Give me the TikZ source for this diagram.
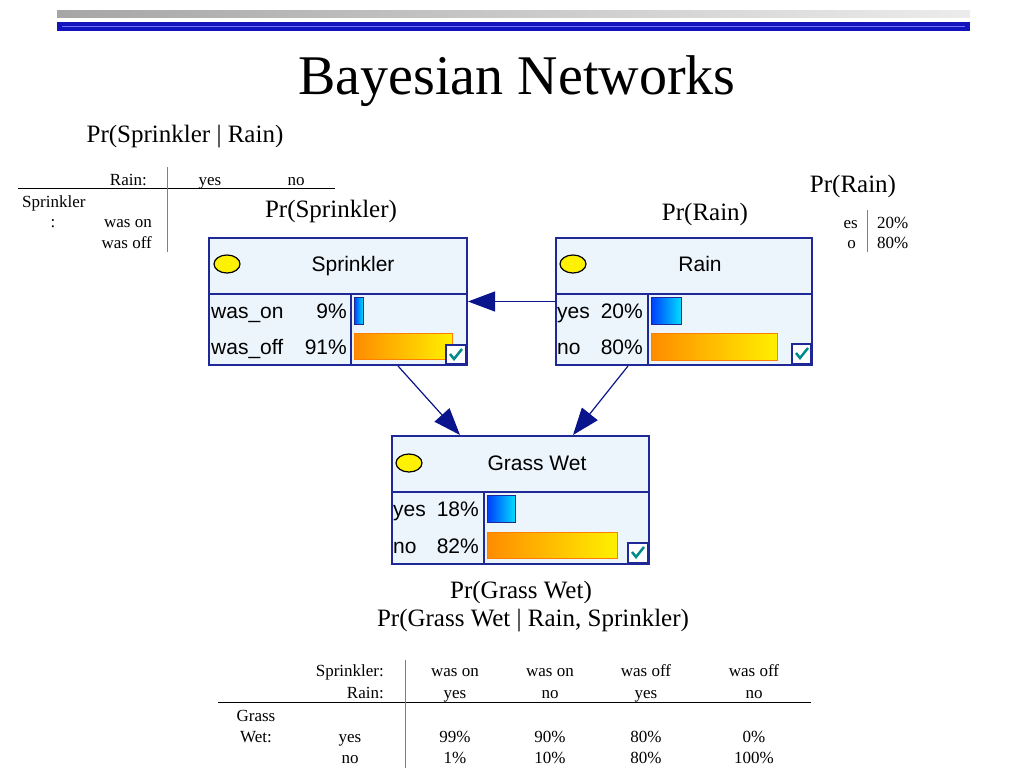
\documentclass[tikz,border=0pt]{standalone}
\usepackage{fontspec}
\setmainfont{Liberation Serif}
\newfontfamily\netfont{Liberation Sans}
\usetikzlibrary{arrows.meta}
\definecolor{netfill}{RGB}{236,245,252}
\definecolor{navyline}{RGB}{30,40,150}
\definecolor{arrowblue}{RGB}{10,20,140}
\definecolor{topblue}{RGB}{20,20,190}
\definecolor{barblueL}{RGB}{0,60,255}
\definecolor{barblueR}{RGB}{0,220,255}
\definecolor{barorL}{RGB}{255,140,0}
\definecolor{barorR}{RGB}{255,240,0}
\definecolor{tickteal}{RGB}{0,140,140}
\begin{document}
\begin{tikzpicture}[x=1pt,y=-1pt,
  netbox/.style={draw=navyline,line width=2pt,fill=netfill,inner sep=0pt,anchor=north west},
  divider/.style={draw=navyline,line width=2pt},
  oval/.style={draw=black,fill=yellow,line width=1.2pt},
  nettitle/.style={font=\netfont\fontsize{21}{24}\selectfont,inner sep=0pt,text height=15pt,text depth=0pt},
  state/.style={font=\netfont\fontsize{21}{24}\selectfont,inner sep=0pt,text height=15pt,text depth=0pt},
  bluebar/.style={left color=barblueL,right color=barblueR,draw=navyline,line width=1pt},
  orangebar/.style={left color=barorL,right color=barorR,draw=orange,line width=1pt},
  checkbox/.style={draw=navyline,fill=white,line width=1.5pt},
  tick/.style={draw=tickteal,line width=2.5pt},
  netarrow/.style={draw=arrowblue,line width=1.2pt,-{Triangle[length=27pt,width=20pt]}},
  tab/.style={font=\fontsize{17}{20}\selectfont,inner sep=0pt,text height=11.5pt,text depth=0pt},
  prlabel/.style={font=\fontsize{25}{30}\selectfont,inner sep=0pt},
  rule/.style={line width=1pt}]
\useasboundingbox (0,0) rectangle (1024,768);

% top bars and title
\shade[left color=gray!70,middle color=gray!40,right color=gray!15] (57,11) rectangle (970,18);
\fill[topblue] (57,22) rectangle (970,31);
\draw[blue!55,line width=1pt] (62,26.5) -- (965,26.5);
\node[font=\fontsize{56}{60}\selectfont,inner sep=0pt] (title) at (517,81) {Bayesian Networks};

% Pr(Sprinkler | Rain) table
\node[prlabel] (prSprRain) at (185,137) {Pr(Sprinkler | Rain)};
\node[tab,anchor=east] (rainHd) at (147,180) {Rain:};
\node[tab] (yesHd) at (210,180) {yes};
\node[tab] (noHd) at (296,180) {no};
\node[tab,anchor=west] (sprHd) at (22,202) {Sprinkler};
\node[tab] (sprColon) at (53,222) {:};
\node[tab,anchor=east] (wasOn) at (152,222) {was on};
\node[tab,anchor=east] (wasOff) at (152,243) {was off};
\draw[rule] (18,188) -- (335,188);
\draw[rule,gray] (167,167) -- (167,252);

% Pr(Rain) table
\node[prlabel] (prRainTop) at (853,186) {Pr(Rain)};
\node[tab,anchor=east] (rainYes) at (858,223) {es};
\node[tab,anchor=east] (rainNo) at (856,243) {o};
\node[tab,anchor=west] (rainP1) at (877,223) {20\%};
\node[tab,anchor=west] (rainP2) at (877,243) {80\%};
\draw[rule,gray] (867,210) -- (867,252);

\node[prlabel] (prSpr) at (331,211) {Pr(Sprinkler)};
\node[prlabel] (prRain) at (705,214) {Pr(Rain)};

% Sprinkler
\node[netbox,minimum width=258,minimum height=127] (sprinkler) at (208,237) {};
\draw[divider] (208,294) -- (466,294) (351,294) -- (351,364);
\draw[oval] (227,264) ellipse [x radius=13,y radius=9];
\node[nettitle] (sprinklerT) at (353,264) {Sprinkler};
\node[state,anchor=west] (sprS1) at (211,311) {was\_on};
\node[state,anchor=east] (sprP1) at (347,311) {9\%};
\node[state,anchor=west] (sprS2) at (211,347) {was\_off};
\node[state,anchor=east] (sprP2) at (347,347) {91\%};
\shade[bluebar] (354,297) rectangle (363,324);
\shade[orangebar] (354,333) rectangle (452,359);
\draw[checkbox] (446,345) rectangle (466,364);
\draw[tick] (450,354) -- (454,359) -- (462,349);

% Rain
\node[netbox,minimum width=256,minimum height=127] (rain) at (555,237) {};
\draw[divider] (555,294) -- (811,294) (648,294) -- (648,364);
\draw[oval] (573,264) ellipse [x radius=13,y radius=9];
\node[nettitle] (rainT) at (700,264) {Rain};
\node[state,anchor=west] (rainS1) at (557,311) {yes};
\node[state,anchor=east] (rainPc1) at (643,311) {20\%};
\node[state,anchor=west] (rainS2) at (557,347) {no};
\node[state,anchor=east] (rainPc2) at (643,347) {80\%};
\shade[bluebar] (651,297) rectangle (681,324);
\shade[orangebar] (651,333) rectangle (777,360);
\draw[checkbox] (792,344) rectangle (811,364);
\draw[tick] (796,353) -- (800,358) -- (808,348);

% Grass Wet
\node[netbox,minimum width=257,minimum height=128] (grass) at (391,435) {};
\draw[divider] (391,492) -- (648,492) (484,492) -- (484,563);
\draw[oval] (409,463) ellipse [x radius=13,y radius=9];
\node[nettitle] (grassT) at (537,463) {Grass Wet};
\node[state,anchor=west] (grassS1) at (393,509) {yes};
\node[state,anchor=east] (grassP1) at (479,509) {18\%};
\node[state,anchor=west] (grassS2) at (393,546) {no};
\node[state,anchor=east] (grassP2) at (479,546) {82\%};
\shade[bluebar] (487,495) rectangle (515,522);
\shade[orangebar] (487,532) rectangle (617,558);
\draw[checkbox] (628,543) rectangle (648,563);
\draw[tick] (632,552) -- (636,557) -- (644,547);

% links
\draw[netarrow] (rain.west) -- (sprinkler.east);
\draw[netarrow] ([xshift=190pt]sprinkler.south west) -- ([xshift=69pt]grass.north west);
\draw[netarrow] ([xshift=73pt]rain.south west) -- ([xshift=182pt]grass.north west);

% Pr(Grass Wet | Rain, Sprinkler) table
\node[prlabel] (prGrass) at (521,592) {Pr(Grass Wet)};
\node[prlabel] (prGrassCond) at (533,621) {Pr(Grass Wet | Rain, Sprinkler)};
\node[tab,anchor=east] (gSprHd) at (384,671) {Sprinkler:};
\node[tab,anchor=east] (gRainHd) at (384,693) {Rain:};
\node[tab] (gGrass) at (256,716) {Grass};
\node[tab] (gWet) at (256,737) {Wet:};
\node[tab] (gYes) at (350,737) {yes};
\node[tab] (gNo) at (350,758) {no};
\foreach \x/\s/\r/\py/\pn in {455/was on/yes/99/1, 550/was on/no/90/10, 646/was off/yes/80/80, 754/was off/no/0/100}
{
  \node[tab] at (\x,671) {\s};
  \node[tab] at (\x,693) {\r};
  \node[tab] at (\x,737) {\py\%};
  \node[tab] at (\x,758) {\pn\%};
}
\draw[rule] (218,702) -- (811,702);
\draw[rule,gray] (405,660) -- (405,768);
\end{tikzpicture}
\end{document}
